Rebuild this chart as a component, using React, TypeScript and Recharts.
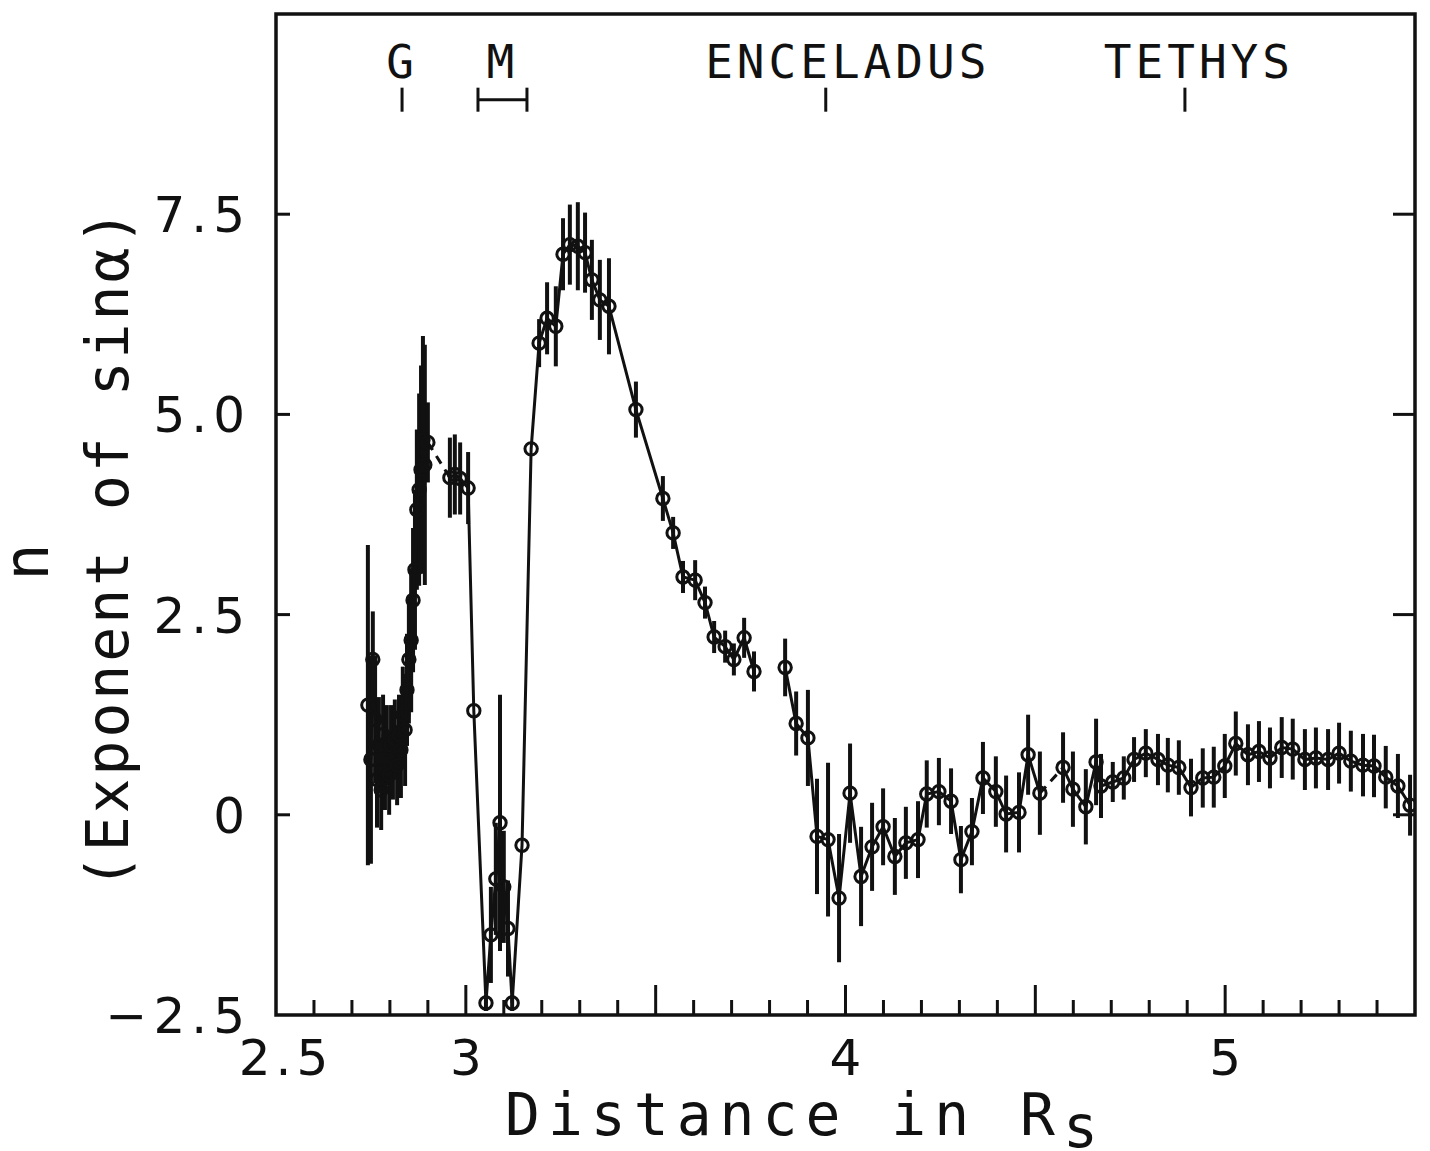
import React from 'react';
import {
  ComposedChart,
  Line,
  XAxis,
  YAxis,
  ErrorBar,
  ReferenceLine,
  ReferenceArea,
} from 'recharts';

// ---------- DATA: [distance in Rs, n (exponent of sin alpha), error] ----------
const gRingScan: [number, number, number][] = [
  [2.742, 1.37, 2.0],
  [2.75, 0.69, 1.3],
  [2.755, 1.94, 0.6],
  [2.761, 1.19, 0.8],
  [2.766, 0.44, 0.6],
  [2.771, 0.87, 0.6],
  [2.777, 0.31, 0.5],
  [2.782, 1.0, 0.5],
  [2.787, 0.56, 0.5],
  [2.792, 0.87, 0.5],
  [2.798, 0.5, 0.5],
  [2.803, 0.87, 0.5],
  [2.808, 0.69, 0.5],
  [2.813, 0.94, 0.5],
  [2.819, 0.62, 0.5],
  [2.824, 1.0, 0.5],
  [2.829, 0.81, 0.6],
  [2.834, 1.25, 0.6],
  [2.84, 1.06, 0.7],
  [2.845, 1.56, 0.7],
  [2.85, 1.94, 0.8],
  [2.856, 2.18, 0.9],
  [2.861, 2.68, 0.9],
  [2.866, 3.06, 1.0],
  [2.871, 3.81, 1.0],
  [2.877, 4.06, 1.2],
  [2.882, 4.31, 1.3],
  [2.887, 4.68, 1.3],
  [2.892, 4.37, 1.5],
  [2.9, 4.65, 0.5],
];

const mimasScan: [number, number, number][] = [
  [2.958, 4.21, 0.5],
  [2.971, 4.25, 0.5],
  [2.985, 4.2, 0.45],
  [3.006, 4.08, 0.45],
  [3.021, 1.3, 0],
  [3.053, -2.35, 0.1],
  [3.066, -1.5, 0.6],
  [3.079, -0.8, 0.7],
  [3.09, -0.1, 1.6],
  [3.1, -0.9, 0.7],
  [3.111, -1.42, 0.6],
  [3.122, -2.35, 0.1],
  [3.148, -0.38, 0],
  [3.172, 4.57, 0],
  [3.193, 5.89, 0.3],
  [3.214, 6.2, 0.45],
  [3.237, 6.1, 0.5],
  [3.256, 7.0, 0.45],
  [3.274, 7.12, 0.5],
  [3.295, 7.1, 0.55],
  [3.314, 7.02, 0.5],
  [3.332, 6.68, 0.5],
  [3.353, 6.43, 0.5],
  [3.377, 6.35, 0.6],
  [3.448, 5.06, 0.35],
  [3.519, 3.95, 0.28],
  [3.546, 3.52, 0.2],
  [3.572, 2.97, 0.2],
  [3.604, 2.93, 0.25],
  [3.63, 2.65, 0.2],
  [3.654, 2.22, 0.2],
  [3.683, 2.1, 0.2],
  [3.706, 1.94, 0.2],
  [3.733, 2.21, 0.25],
  [3.759, 1.79, 0.25],
];

const enceladusScan: [number, number, number][] = [
  [3.841, 1.84, 0.36],
  [3.87, 1.14, 0.4],
  [3.901, 0.96, 0.6],
  [3.925, -0.27, 0.72],
  [3.954, -0.31, 0.96],
  [3.983, -1.04, 0.8],
  [4.012, 0.27, 0.62],
  [4.041, -0.77, 0.62],
  [4.07, -0.4, 0.55],
  [4.099, -0.15, 0.48],
  [4.13, -0.52, 0.48],
  [4.159, -0.35, 0.45],
  [4.191, -0.31, 0.48],
  [4.214, 0.26, 0.42],
  [4.246, 0.29, 0.42],
  [4.278, 0.17, 0.41],
  [4.304, -0.56, 0.42],
  [4.333, -0.21, 0.42],
  [4.362, 0.46, 0.45],
  [4.396, 0.29, 0.44],
  [4.423, 0.01, 0.48],
  [4.457, 0.03, 0.5],
  [4.481, 0.75, 0.5],
  [4.512, 0.27, 0.52],
];

const tethysScan: [number, number, number][] = [
  [4.573, 0.59, 0.44],
  [4.599, 0.32, 0.47],
  [4.633, 0.1, 0.47],
  [4.66, 0.66, 0.54],
  [4.673, 0.36, 0.4],
  [4.704, 0.41, 0.25],
  [4.733, 0.46, 0.27],
  [4.76, 0.69, 0.28],
  [4.791, 0.77, 0.3],
  [4.823, 0.69, 0.32],
  [4.849, 0.62, 0.34],
  [4.878, 0.59, 0.34],
  [4.91, 0.34, 0.36],
  [4.941, 0.46, 0.37],
  [4.97, 0.47, 0.38],
  [4.999, 0.61, 0.4],
  [5.028, 0.89, 0.4],
  [5.06, 0.75, 0.38],
  [5.089, 0.79, 0.38],
  [5.118, 0.71, 0.38],
  [5.149, 0.84, 0.38],
  [5.178, 0.82, 0.38],
  [5.21, 0.69, 0.38],
  [5.239, 0.71, 0.38],
  [5.271, 0.69, 0.38],
  [5.3, 0.77, 0.38],
  [5.331, 0.67, 0.38],
  [5.363, 0.62, 0.39],
  [5.392, 0.61, 0.39],
  [5.423, 0.47, 0.39],
  [5.455, 0.36, 0.4],
  [5.487, 0.12, 0.38],
];

// ---------- TICKS / LABELS ----------
const distanceTicks = [
  2.5, 2.6, 2.7, 2.8, 2.9, 3.0, 3.1, 3.2, 3.3, 3.4, 3.5, 3.6, 3.7, 3.8, 3.9, 4.0,
  4.1, 4.2, 4.3, 4.4, 4.5, 4.6, 4.7, 4.8, 4.9, 5.0, 5.1, 5.2, 5.3, 5.4, 5.5,
];
const distanceTickValuesLabelled = [2.5, 3, 4, 5];
const distanceTickLabels = ['2.5', '3', '4', '5'];
const exponentTicks = [-2.5, 0, 2.5, 5, 7.5];
const exponentTickLabels = ['\u22122.5', '0', '2.5', '5.0', '7.5'];

const satelliteNames = ['G', 'ENCELADUS', 'TETHYS'];
const satelliteDistances = [2.832, 3.948, 4.894];
const mimasName = 'M';
const mimasRange = [3.032, 3.161];

// ---------- LAYOUT ----------
const W = 1414;
const H = 1143;
const MARGIN = { top: 6, right: 7, bottom: 96, left: 208 };
const Y_AXIS_W = 60;
const X_AXIS_H = 40;
const PLOT_W = W - MARGIN.left - Y_AXIS_W - MARGIN.right;
const X_DOMAIN: [number, number] = [2.5, 5.5];
const Y_DOMAIN: [number, number] = [-2.5, 10];
const MARK_LOW = 8.78;
const MARK_HIGH = 9.08;
const MARK_MID = 8.93;
const SATELLITE_LABEL_SHIFT = [0, 22, 14];

const MONO = '"DejaVu Sans Mono", "Liberation Mono", monospace';
const SANS = '"DejaVu Sans", "Liberation Sans", sans-serif';
const INK = '#111';

const toRows = (rows: [number, number, number][]) =>
  rows.map(([x, n, err]) => ({ x, n, err }));

const segments = [gRingScan, mimasScan, enceladusScan, tethysScan].map(toRows);
const dashedLinks = [
  [segments[0][segments[0].length - 1], segments[1][0]],
  [segments[2][segments[2].length - 1], segments[3][0]],
];

const Marker = (p: any) => {
  if (p.cx == null || p.cy == null) return <g key={p.index} />;
  return (
    <circle
      key={p.index}
      cx={p.cx}
      cy={p.cy}
      r={6.2}
      fill="none"
      stroke={INK}
      strokeWidth={3}
    />
  );
};

const XTick = (props: any) => {
  const { x, y, payload } = props;
  const v = payload.value as number;
  const major = Math.abs(v * 2 - Math.round(v * 2)) < 1e-6;
  const len = major ? 30 : 15;
  const idx = distanceTickValuesLabelled.findIndex((t) => Math.abs(t - v) < 1e-6);
  const onEdge = Math.abs(v - X_DOMAIN[0]) < 1e-6 || Math.abs(v - X_DOMAIN[1]) < 1e-6;
  return (
    <g>
      {!onEdge && (
        <line x1={x} x2={x} y1={y} y2={y - len} stroke={INK} strokeWidth={3} />
      )}
      {idx >= 0 && (
        <text
          x={x + (idx === 0 ? 10 : 0)}
          y={y + 60}
          textAnchor="middle"
          fontSize={50}
          fontFamily={SANS}
          letterSpacing={idx === 0 ? 5 : 0}
          fill={INK}
        >
          {distanceTickLabels[idx]}
        </text>
      )}
    </g>
  );
};

const YTick = (props: any) => {
  const { x, y, payload } = props;
  const v = payload.value as number;
  const idx = exponentTicks.findIndex((t) => Math.abs(t - v) < 1e-6);
  const inner = v > Y_DOMAIN[0] && v < Y_DOMAIN[1];
  return (
    <g>
      {inner && <line x1={x} x2={x + 14} y1={y} y2={y} stroke={INK} strokeWidth={3} />}
      {inner && (
        <line x1={x + PLOT_W - 22} x2={x + PLOT_W} y1={y} y2={y} stroke={INK} strokeWidth={3} />
      )}
      <text
        x={x - 25}
        y={y + 18}
        textAnchor="end"
        fontSize={50}
        fontFamily={SANS}
        letterSpacing={6}
        fill={INK}
      >
        {exponentTickLabels[idx]}
      </text>
    </g>
  );
};

const XTitle = () => (
  <text x={497} y={1127} fontSize={58} fontFamily={MONO} letterSpacing={8} fill={INK}>
    Distance in R<tspan dy={12}>s</tspan>
  </text>
);

const YTitle = () => (
  <g>
    <text
      x={40}
      y={554}
      transform="rotate(-90 40 554)"
      textAnchor="middle"
      fontSize={62}
      fontFamily={MONO}
      fill={INK}
    >
      n
    </text>
    <text
      x={120}
      y={540}
      transform="rotate(-90 120 540)"
      textAnchor="middle"
      fontSize={58}
      fontFamily={MONO}
      letterSpacing={3}
      fill={INK}
    >
      (Exponent of sin{'\u03B1'})
    </text>
  </g>
);

const makeLabel = (value: string, offset: number, shift: number) => (p: any) => {
  const vb = p.viewBox || { x: 0, y: 0, width: 0, height: 0 };
  return (
    <text
      x={vb.x + (vb.width || 0) / 2 + shift}
      y={vb.y - offset}
      textAnchor="middle"
      fontSize={46}
      fontFamily={MONO}
      letterSpacing={4}
      fill={INK}
    >
      {value}
    </text>
  );
};

export default function App() {
  return (
    <div style={{ width: W, height: H, background: '#fff' }}>
      <ComposedChart width={W} height={H} margin={MARGIN}>
        <XAxis
          dataKey="x"
          type="number"
          domain={X_DOMAIN}
          ticks={distanceTicks}
          interval={0}
          allowDataOverflow
          axisLine={false}
          tickLine={false}
          tickSize={0}
          tickMargin={0}
          height={X_AXIS_H}
          tick={<XTick />}
          label={<XTitle />}
        />
        <YAxis
          type="number"
          domain={Y_DOMAIN}
          ticks={exponentTicks}
          interval={0}
          allowDataOverflow
          axisLine={false}
          tickLine={false}
          tickSize={0}
          tickMargin={0}
          width={Y_AXIS_W}
          tick={<YTick />}
          label={<YTitle />}
        />
        <ReferenceArea
          x1={X_DOMAIN[0]}
          x2={X_DOMAIN[1]}
          y1={Y_DOMAIN[0]}
          y2={Y_DOMAIN[1]}
          fill="none"
          stroke={INK}
          strokeWidth={3.5}
          ifOverflow="visible"
        />
        {satelliteNames.map((name, i) => (
          <ReferenceLine
            key={name}
            segment={[
              { x: satelliteDistances[i], y: MARK_LOW },
              { x: satelliteDistances[i], y: MARK_HIGH },
            ]}
            stroke={INK}
            strokeWidth={3}
            label={makeLabel(name, 10, SATELLITE_LABEL_SHIFT[i])}
          />
        ))}
        <ReferenceLine
          segment={[
            { x: mimasRange[0], y: MARK_MID },
            { x: mimasRange[1], y: MARK_MID },
          ]}
          stroke={INK}
          strokeWidth={3}
          label={makeLabel(mimasName, 22, 0)}
        />
        {mimasRange.map((d) => (
          <ReferenceLine
            key={'m' + d}
            segment={[
              { x: d, y: MARK_LOW },
              { x: d, y: MARK_HIGH },
            ]}
            stroke={INK}
            strokeWidth={3}
          />
        ))}
        {dashedLinks.map((link, i) => (
          <Line
            key={'dash' + i}
            data={link}
            dataKey="n"
            type="linear"
            stroke={INK}
            strokeWidth={3}
            strokeDasharray="9 7"
            dot={false}
            activeDot={false}
            isAnimationActive={false}
            legendType="none"
          />
        ))}
        {segments.map((seg, i) => (
          <Line
            key={'seg' + i}
            data={seg}
            dataKey="n"
            type="linear"
            stroke={INK}
            strokeWidth={3}
            dot={Marker}
            activeDot={false}
            isAnimationActive={false}
          >
            <ErrorBar
              dataKey="err"
              direction="y"
              width={0}
              stroke={INK}
              strokeWidth={4}
              isAnimationActive={false}
            />
          </Line>
        ))}
      </ComposedChart>
    </div>
  );
}
